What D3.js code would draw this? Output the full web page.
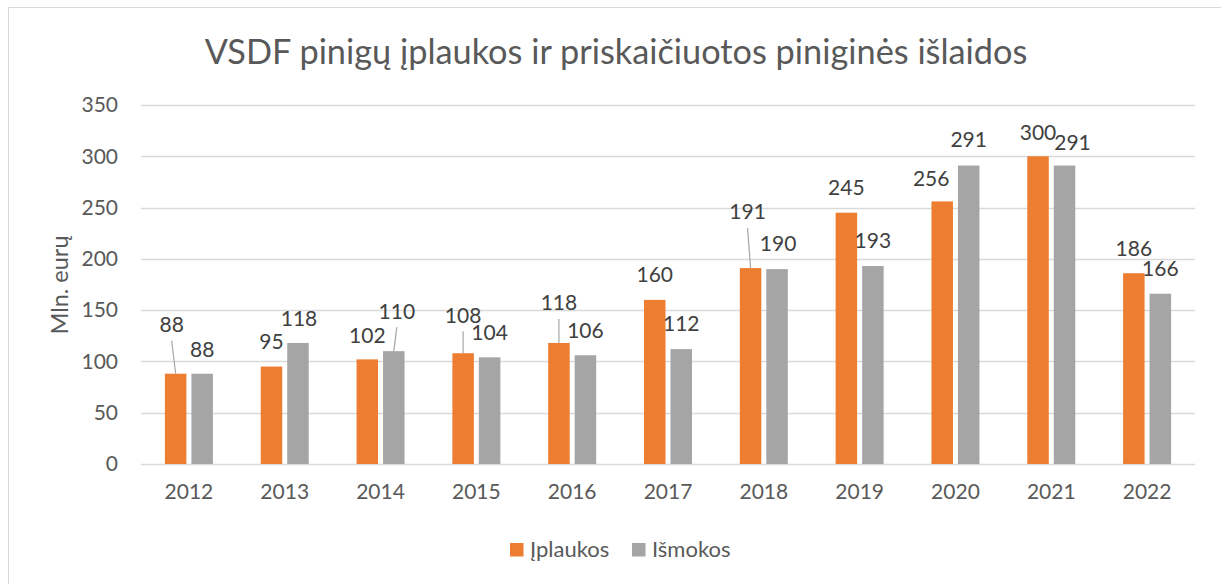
<!DOCTYPE html>
<html>
<head>
<meta charset="utf-8">
<script src="https://cdn.jsdelivr.net/npm/d3@7"></script>
<style>
  body { margin: 0; background: #fff; }
  svg text { font-family: Lato, "Noto Sans", sans-serif; fill: #595959; }
</style>
</head>
<body>
<svg id="chart" width="1221" height="584"></svg>
<script>
// Chart data
const years = ["2012", "2013", "2014", "2015", "2016", "2017", "2018", "2019", "2020", "2021", "2022"];
const iplaukos = [88, 95, 102, 108, 118, 160, 191, 245, 256, 300, 186];
const ismokos = [88, 118, 110, 104, 106, 112, 190, 193, 291, 291, 166];
const seriesNames = ["Įplaukos", "Išmokos"];
const yTicks = [0, 50, 100, 150, 200, 250, 300, 350];

// Label nudges (dx, dy from bar top), some labels were dragged in the original
const iplaukosLabelShift = [[-4, -49], [0, -25], [0, -24], [0, -38], [0, -40], [0, -25], [-3, -56], [0, -25], [-11, -23], [0, -24], [0, -25]];
const ismokosLabelShift = [[0, -24], [1, -24], [3, -40], [0, -25], [0, -25], [0, -25], [1, -25], [0, -25], [0, -26], [8, -23], [0, -25]];

const colors = ["#ED7D31", "#A5A5A5"];

const svg = d3.select("#chart");

// chart area border
svg.append("rect")
    .attr("x", 8.5).attr("y", 7.5)
    .attr("width", 1400).attr("height", 800)
    .attr("fill", "none")
    .attr("stroke", "#d9d9d9");

const plotLeft = 141, plotRight = 1195, plotTop = 105, plotBottom = 464;

const x = d3.scaleBand().domain(years).range([plotLeft, plotRight]);
const y = d3.scaleLinear().domain([0, 350]).range([plotBottom, plotTop]);

const barWidth = 21.5;
const barGap = 5;
const offsets = [-(barGap / 2 + barWidth / 2), barGap / 2 + barWidth / 2];

// Title
svg.append("text")
    .attr("x", 616).attr("y", 52)
    .attr("dy", "0.35em")
    .attr("text-anchor", "middle")
    .style("font-size", "34.3px")
    .text("VSDF pinigų įplaukos ir priskaičiuotos piniginės išlaidos");

// gridlines
svg.append("g")
    .selectAll("line")
    .data(yTicks)
    .join("line")
    .attr("x1", plotLeft).attr("x2", plotRight)
    .attr("y1", d => Math.round(y(d)) + 0.5)
    .attr("y2", d => Math.round(y(d)) + 0.5)
    .attr("stroke", "#d9d9d9")
    .attr("stroke-width", 1.3);

// y axis
const yAxis = svg.append("g")
    .attr("transform", `translate(${plotLeft},0)`)
    .call(d3.axisLeft(y).tickValues(yTicks).tickSize(0).tickPadding(23));
yAxis.select(".domain").remove();
yAxis.selectAll("text")
    .style("font-size", "21px")
    .style("font-family", "Lato, sans-serif")
    .attr("fill", "#595959");

// x axis
const xAxis = svg.append("g")
    .attr("transform", `translate(0,${plotBottom})`)
    .call(d3.axisBottom(x).tickSize(0).tickPadding(20));
xAxis.select(".domain").remove();
xAxis.selectAll("text")
    .style("font-size", "21px")
    .style("font-family", "Lato, sans-serif")
    .attr("fill", "#595959");

// y axis title
svg.append("text")
    .attr("transform", "translate(60,285) rotate(-90)")
    .attr("dy", "0.35em")
    .attr("text-anchor", "middle")
    .style("font-size", "23.5px")
    .text("Mln. eurų");

// bars + labels
const allSeries = [iplaukos, ismokos];
const allShifts = [iplaukosLabelShift, ismokosLabelShift];

allSeries.forEach((values, s) => {
    const data = values.map((v, i) => ({ year: years[i], value: v, shift: allShifts[s][i] }));
    const cx = d => x(d.year) + x.bandwidth() / 2 + offsets[s];

    svg.append("g")
        .selectAll("rect")
        .data(data)
        .join("rect")
        .attr("x", d => cx(d) - barWidth / 2)
        .attr("y", d => y(d.value))
        .attr("width", barWidth)
        .attr("height", d => y(0) - y(d.value))
        .attr("fill", colors[s]);

    // leader lines for labels that were moved far from the bar
    svg.append("g")
        .selectAll("line")
        .data(data.filter(d => d.shift[1] < -30))
        .join("line")
        .attr("x1", d => cx(d) + d.shift[0])
        .attr("y1", d => y(d.value) + d.shift[1] + 16)
        .attr("x2", d => cx(d))
        .attr("y2", d => y(d.value))
        .attr("stroke", "#a6a6a6")
        .attr("stroke-width", 1.2);

    svg.append("g")
        .selectAll("text")
        .data(data)
        .join("text")
        .attr("x", d => cx(d) + d.shift[0])
        .attr("y", d => y(d.value) + d.shift[1])
        .attr("dy", "0.35em")
        .attr("text-anchor", "middle")
        .style("font-size", "21px")
        .style("fill", "#404040")
        .text(d => d.value);
});

// legend
const legendItems = [{ name: seriesNames[0], x: 510 }, { name: seriesNames[1], x: 632 }];
const legend = svg.append("g");
legendItems.forEach((item, i) => {
    legend.append("rect")
        .attr("x", item.x).attr("y", 543)
        .attr("width", 13.5).attr("height", 13.5)
        .attr("fill", colors[i]);
    legend.append("text")
        .attr("x", item.x + 20).attr("y", 549.5)
        .attr("dy", "0.35em")
        .style("font-size", "22px")
        .text(item.name);
});
</script>
</body>
</html>
